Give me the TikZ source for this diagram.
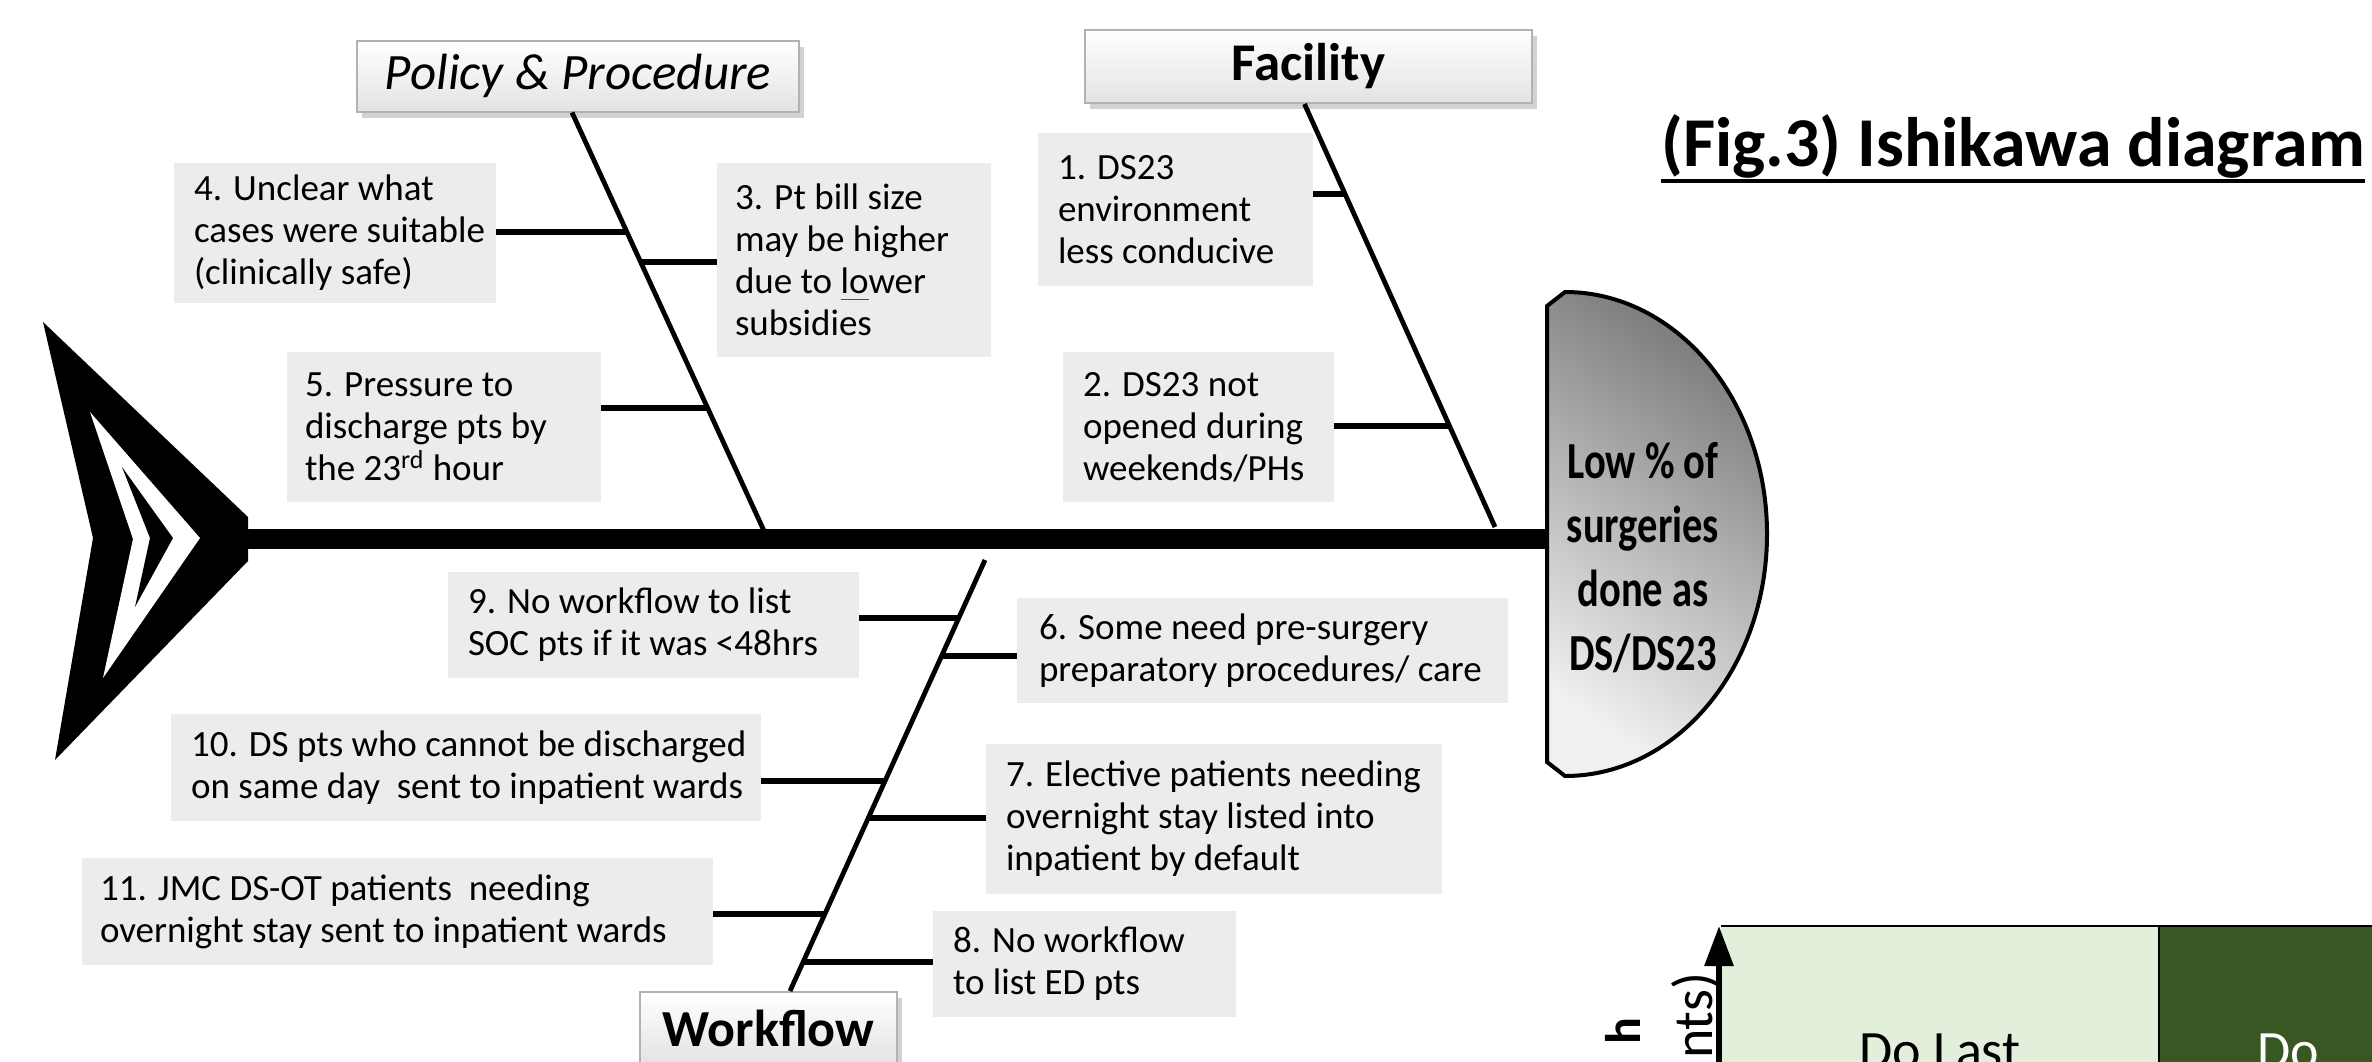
\documentclass[tikz,border=0pt]{standalone}
\usepackage{fontspec}
\setmainfont{Carlito}
\newfontfamily\headfont[FakeStretch=0.78]{Carlito}
\usetikzlibrary{shadows,calc,arrows.meta}
\definecolor{boxgray}{RGB}{236,236,236}
\definecolor{lgreen}{RGB}{226,239,218}
\definecolor{dgreen}{RGB}{56,87,35}
\definecolor{headdark}{RGB}{122,122,122}
\definecolor{headlight}{RGB}{240,240,240}
\newcommand\spellmark[1]{\setbox0\hbox{#1}\rlap{\textcolor{red}{\rule[-3pt]{\wd0}{0.6pt}}}\box0}
\tikzset{
  cause/.style={fill=boxgray, draw=none, inner sep=0pt},
  causetext/.style={font=\fontsize{18.5}{21}\selectfont, align=left, anchor=west, inner sep=0pt},
  cat/.style={draw=gray!60, line width=1pt, top color=white, bottom color=gray!22,
    drop shadow={opacity=0.35, shadow xshift=2.5pt, shadow yshift=-3pt}, inner sep=0pt},
  bone/.style={line width=2.4pt},
  rib/.style={line width=2.6pt},
}
\begin{document}
\begin{tikzpicture}[x=0.5pt,y=-0.5pt]
\useasboundingbox (0,0) rectangle (2372,1061);
\clip (0,0) rectangle (2372,1061);
\fill[white] (0,0) rectangle (2372,1061);

% spine
\coordinate (sp0) at (240,539);
\coordinate (headl) at (1547,539);
\draw[line width=10pt] (sp0) -- (headl);

% tail
\fill[black] (43,322) -- (248,517) -- (248,561) -- (55,760) -- (93,538) -- cycle;
\fill[white] (90,412) -- (200,538) -- (103,678) -- (133,539) -- cycle;
\fill[black] (122,467) -- (173,538) -- (135,607) -- (150,538) -- cycle;

% head
\path[draw=black, line width=2pt, top color=headdark, bottom color=headlight, shading angle=-35]
  (1547,306) -- (1565,292) arc[start angle=90, end angle=-90, x radius=101pt, y radius=121pt] -- (1547,762) -- cycle;
\node[font=\headfont\bfseries\fontsize{26}{32}\selectfont, align=center, inner sep=0pt] (hd) at (1643,558)
  {Low \% of\\surgeries\\done as\\DS/DS23};

% title
\node[font=\bfseries\fontsize{35}{38}\selectfont, anchor=base east, inner sep=0pt] (title) at (2365,166) {(Fig.3) Ishikawa diagram};
\draw[line width=2pt] ([yshift=-7.5pt]title.base west) -- ([yshift=-7.5pt]title.base east);

% category boxes
\node[cat, minimum width=221pt, minimum height=35.5pt, font=\itshape\fontsize{25.5}{30}\selectfont] (pp) at (578,76) {Policy \& Procedure};
\node[cat, minimum width=223.5pt, minimum height=36.5pt, font=\bfseries\fontsize{26.5}{30}\selectfont] (fac) at (1308.5,66.5) {Facility};
\node[cat, minimum width=128.5pt, minimum height=36.5pt, font=\bfseries\fontsize{26}{30}\selectfont] (wf) at (768.5,1028.5) {Workflow};

% bones
\coordinate (ppb) at (765,533);
\coordinate (facb) at (1495,527);
\coordinate (wfb) at (985,560);
\draw[bone] ([xshift=-3pt]pp.south) -- (ppb);
\draw[bone] ([xshift=-2pt]fac.south) -- (facb);
\draw[bone] ([xshift=10.75pt]wf.north) -- (wfb);

% rib end points on the bones
\coordinate (r4) at (627,232);
\coordinate (r3) at (640.8,262);
\coordinate (r5) at (707.7,408);
\coordinate (r1) at (1345.4,194);
\coordinate (r2) at (1449.6,426);
\coordinate (r9) at (958.8,618);
\coordinate (r6) at (941.7,656);
\coordinate (r10) at (885.2,781);
\coordinate (r7) at (868.5,818);
\coordinate (r11) at (825.2,914);
\coordinate (r8) at (803.5,962);

% cause boxes
\node[cause, minimum width=161pt, minimum height=70pt] (c4) at (335,233) {};
\node[causetext] (t4) at ([xshift=10pt]c4.west) {4. Unclear what\\cases were suitable\\(clinically safe)};
\node[cause, minimum width=137pt, minimum height=97pt] (c3) at (854,260) {};
\node[causetext] (t3) at ([xshift=9pt]c3.west) {3. Pt bill size\\may be higher\\due to \spellmark{lo}wer\\subsidies};
\node[cause, minimum width=137.5pt, minimum height=76.5pt] (c1) at (1175.5,209.5) {};
\node[causetext] (t1) at ([xshift=10pt]c1.west) {1. DS23\\environment\\less conducive};
\node[cause, minimum width=157pt, minimum height=75pt] (c5) at (444,427) {};
\node[causetext] (t5) at ([xshift=9pt]c5.west) {5. Pressure to\\discharge pts by\\the 23\textsuperscript{rd} hour};
\node[cause, minimum width=135.5pt, minimum height=75pt] (c2) at (1198.5,427) {};
\node[causetext] (t2) at ([xshift=10pt]c2.west) {2. DS23 not\\opened during\\weekends/PHs};
\node[cause, minimum width=205.5pt, minimum height=53pt] (c9) at (653.5,625) {};
\node[causetext] (t9) at ([xshift=10pt]c9.west) {9. No workflow to list\\SOC pts if it was <48hrs};
\node[cause, minimum width=245.5pt, minimum height=52.5pt] (c6) at (1262.5,650.5) {};
\node[causetext] (t6) at ([xshift=11pt]c6.west) {6. Some need pre-surgery\\preparatory procedures/ care};
\node[cause, minimum width=295pt, minimum height=53.5pt] (c10) at (466,767.5) {};
\node[causetext] (t10) at ([xshift=10pt]c10.west) {10. DS pts who cannot be discharged\\on same day~ sent to inpatient wards};
\node[cause, minimum width=228pt, minimum height=75pt] (c7) at (1214,819) {};
\node[causetext] (t7) at ([xshift=10pt]c7.west) {7. Elective patients needing\\overnight stay listed into\\inpatient by default};
\node[cause, minimum width=315.5pt, minimum height=53.5pt] (c11) at (397.5,911.5) {};
\node[causetext] (t11) at ([xshift=9pt]c11.west) {11. JMC DS-OT patients~ needing\\overnight stay sent to inpatient wards};
\node[cause, minimum width=151.5pt, minimum height=53pt] (c8) at (1084.5,964) {};
\node[causetext] (t8) at ([xshift=10pt]c8.west) {8. No workflow\\to list ED pts};

% ribs
\draw[rib] (c4.east |- r4) -- (r4);
\draw[rib] (r3) -- (c3.west |- r3);
\draw[rib] (c5.east |- r5) -- (r5);
\draw[rib] (c1.east |- r1) -- (r1);
\draw[rib] (c2.east |- r2) -- (r2);
\draw[rib] (c9.east |- r9) -- (r9);
\draw[rib] (r6) -- (c6.west |- r6);
\draw[rib] (c10.east |- r10) -- (r10);
\draw[rib] (r7) -- (c7.west |- r7);
\draw[rib] (c11.east |- r11) -- (r11);
\draw[rib] (r8) -- (c8.west |- r8);

% partial matrix at bottom right
\fill[lgreen] (1721,926) rectangle (2159,1080);
\fill[dgreen] (2159,926) rectangle (2400,1080);
\draw[line width=1pt] (1721,926) -- (2400,926);
\draw[line width=1pt] (2159,926) -- (2159,1080);
\draw[line width=3pt, -{Triangle[length=20pt,width=14pt]}] (1719,1080) -- (1719,926);
\node[font=\fontsize{27}{30}\selectfont, anchor=base, inner sep=0pt] (dl) at (1940,1068) {Do Last};
\node[font=\fontsize{27}{30}\selectfont, anchor=base west, text=white, inner sep=0pt] (dd) at (2257,1068) {Do};
\node[font=\fontsize{28}{30}\selectfont, rotate=90, anchor=base east, inner sep=0pt] (ax1) at (1712,972) {nts)};
\node[font=\bfseries\fontsize{25}{30}\selectfont, rotate=90, anchor=base east, inner sep=0pt] (ax2) at (1640,1017) {h};
\end{tikzpicture}
\end{document}
